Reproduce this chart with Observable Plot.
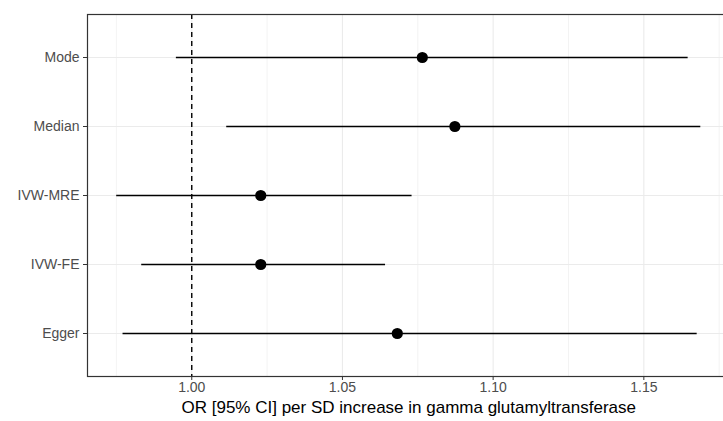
<!DOCTYPE html>
<html>
<head>
<meta charset="utf-8">
<script src="https://cdn.jsdelivr.net/npm/d3@7"></script>
<script src="https://cdn.jsdelivr.net/npm/@observablehq/plot@0.6"></script>
<style>
  html, body { margin: 0; padding: 0; background: white; overflow: hidden; }
  #chart svg { display: block; font-family: "Liberation Sans", Arial, Helvetica, sans-serif; }
  #chart g[aria-label="x-axis tick label"] text, #chart g[aria-label="y-axis tick label"] text { font-size: 14px !important; }
</style>
</head>
<body>
<div id="chart"></div>
<script>
const methods = ["Mode", "Median", "IVW-MRE", "IVW-FE", "Egger"];
const estimates = [1.0765, 1.0873, 1.0229, 1.0229, 1.0682];
const lower = [0.9949, 1.0116, 0.9751, 0.9834, 0.9772];
const upper = [1.1647, 1.1689, 1.0731, 1.0643, 1.1677];
const majorTicks = [1.00, 1.05, 1.10, 1.15];
const minorTicks = [0.975, 1.025, 1.075, 1.125, 1.175];
const xTitle = "OR [95% CI] per SD increase in gamma glutamyltransferase";

const data = methods.map((m, i) => ({method: m, or: estimates[i], lo: lower[i], hi: upper[i]}));

const lo = d3.min(lower), hi = d3.max(upper);
const pad = (hi - lo) * 0.05;

const chart = Plot.plot({
  width: 723,
  height: 421,
  marginLeft: 87,
  marginRight: -6.5,
  marginTop: 14,
  marginBottom: 45,
  style: {fontFamily: "'Liberation Sans', Arial, Helvetica, sans-serif", background: "white", overflow: "hidden"},
  x: {domain: [lo - pad, hi + pad]},
  y: {type: "point", domain: methods, padding: 0.6},
  marks: [
    Plot.gridX(minorTicks, {stroke: "#EBEBEB", strokeOpacity: 1, strokeWidth: 0.6}),
    Plot.gridX(majorTicks, {stroke: "#EBEBEB", strokeOpacity: 1, strokeWidth: 1.1}),
    Plot.gridY(methods, {stroke: "#EBEBEB", strokeOpacity: 1, strokeWidth: 1.1}),
    Plot.ruleX([1], {stroke: "black", strokeWidth: 1.4, strokeDasharray: "5,4"}),
    Plot.ruleY(data, {y: "method", x1: "lo", x2: "hi", stroke: "black", strokeWidth: 1.4}),
    Plot.dot(data, {x: "or", y: "method", r: 5.6, fill: "black", stroke: "none"}),
    Plot.frame({stroke: "#333333", strokeWidth: 1.2}),
    Plot.axisX({ticks: majorTicks, tickFormat: d3.format(".2f"), tickSize: 4, tickPadding: 2, fontSize: 14, fill: "#4D4D4D", stroke: "#333333", label: null}),
    Plot.axisY({tickSize: 4, tickPadding: 4, fontSize: 14, fill: "#4D4D4D", stroke: "#333333", label: null}),
    Plot.text([xTitle], {frameAnchor: "bottom", dy: 36, fontSize: 17, fill: "black", text: d => d})
  ]
});
document.getElementById("chart").appendChild(chart);
</script>
</body>
</html>
